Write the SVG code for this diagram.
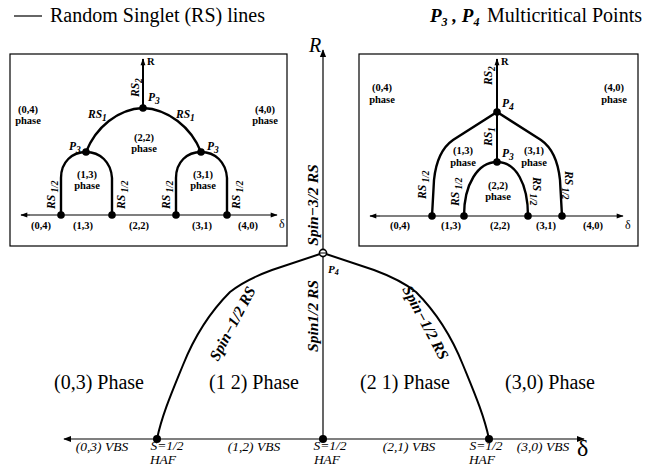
<svg xmlns="http://www.w3.org/2000/svg" width="652" height="466" viewBox="0 0 652 466" font-family="'Liberation Serif', 'DejaVu Serif', serif">
<defs>
<marker id="ah" viewBox="0 0 10 10" refX="9" refY="5" markerWidth="8" markerHeight="8" markerUnits="userSpaceOnUse" orient="auto"><path d="M0,1 L10,5 L0,9 z" fill="#000"/></marker>
<marker id="ahs" viewBox="0 0 10 10" refX="9" refY="5" markerWidth="9" markerHeight="7" markerUnits="userSpaceOnUse" orient="auto"><path d="M0,1.5 L10,5 L0,8.5 z" fill="#000"/></marker>
</defs>
<style>
text, tspan{font-family:'Liberation Serif','DejaVu Serif',serif;fill:#000}
.ax{stroke:#000;stroke-width:1.2;fill:none}
.rs{stroke:#000;stroke-width:2.4;fill:none}
.rsm{stroke:#000;stroke-width:2;fill:none}
.box{stroke:#000;stroke-width:1.2;fill:none}
.dot{fill:#000}
.ib{font-weight:bold;font-size:10.5px;text-anchor:middle}
.il{font-weight:bold;font-style:italic;font-size:11.5px}
.ph{font-size:20px;text-anchor:middle}
.vb{font-style:italic;font-size:13.5px;text-anchor:middle}
.ml{font-weight:bold;font-style:italic;font-size:15.5px}
</style>

<g id="legend">
<line x1="14" y1="16" x2="42" y2="16" stroke="#000" stroke-width="1.2"/>
<text x="50" y="22" font-size="20">Random Singlet (RS) lines</text>
<text x="430" y="22" font-size="19" font-weight="bold" font-style="italic">P<tspan font-size="12" dy="4">3</tspan><tspan dy="-4"> , </tspan>P<tspan font-size="12" dy="4">4</tspan></text>
<text x="487" y="22" font-size="20">Multicritical Points</text>
</g>

<g id="left-inset">
<rect class="box" x="10" y="54" width="277" height="192"/>
<line class="ax" x1="30" y1="215" x2="21" y2="215" marker-end="url(#ahs)"/>
<line class="ax" x1="30" y1="215" x2="277" y2="215" marker-end="url(#ahs)"/>
<line x1="143" y1="108" x2="143" y2="59" stroke="#000" stroke-width="2" marker-end="url(#ahs)"/>
<path class="rs" d="M86,152 C96,127 118,109 143,108 C168,109 191,127 201,152"/>
<path class="rs" d="M61,215 L61,178 C61,162 72,152 86,152 C100,152 111,162 112,178 L112,215"/>
<path class="rs" d="M176,215 L176,178 C176,162 187,152 201,152 C215,152 226,162 227,178 L227,215"/>
<circle class="dot" cx="143" cy="108" r="3.8"/>
<circle class="dot" cx="86" cy="152" r="3.8"/>
<circle class="dot" cx="201" cy="152" r="3.8"/>
<circle class="dot" cx="61" cy="215" r="3.8"/>
<circle class="dot" cx="112" cy="215" r="3.8"/>
<circle class="dot" cx="176" cy="215" r="3.8"/>
<circle class="dot" cx="227" cy="215" r="3.8"/>
<text x="147" y="65" font-size="10.5" font-weight="bold">R</text>
<text class="il" transform="translate(139,97) rotate(-90)">RS<tspan font-size="9.5" dy="3">2</tspan></text>
<text class="il" x="148" y="101" font-size="12.5">P<tspan font-size="9.5" dy="3">3</tspan></text>
<text class="il" x="88" y="118">RS<tspan font-size="9.5" dy="3">1</tspan></text>
<text class="il" x="176" y="118">RS<tspan font-size="9.5" dy="3">1</tspan></text>
<text class="il" x="69" y="150" font-size="12.5">P<tspan font-size="9.5" dy="3">3</tspan></text>
<text class="il" x="207" y="150" font-size="12.5">P<tspan font-size="9.5" dy="3">3</tspan></text>
<text class="ib" x="28" y="113">(0,4)</text><text class="ib" x="28" y="124">phase</text>
<text class="ib" x="265" y="113">(4,0)</text><text class="ib" x="265" y="124">phase</text>
<text class="ib" x="144" y="141">(2,2)</text><text class="ib" x="144" y="152">phase</text>
<text class="ib" x="87" y="178">(1,3)</text><text class="ib" x="87" y="189">phase</text>
<text class="ib" x="203" y="178">(3,1)</text><text class="ib" x="203" y="189">phase</text>
<text class="il" transform="translate(55,209) rotate(-90)">RS<tspan font-size="9.5" dy="3"> 1/2</tspan></text>
<text class="il" transform="translate(125,209) rotate(-90)">RS<tspan font-size="9.5" dy="3"> 1/2</tspan></text>
<text class="il" transform="translate(170,209) rotate(-90)">RS<tspan font-size="9.5" dy="3"> 1/2</tspan></text>
<text class="il" transform="translate(240,209) rotate(-90)">RS<tspan font-size="9.5" dy="3"> 1/2</tspan></text>
<text class="ib" x="41" y="229">(0,4)</text>
<text class="ib" x="83" y="229">(1,3)</text>
<text class="ib" x="139" y="229">(2,2)</text>
<text class="ib" x="202" y="229">(3,1)</text>
<text class="ib" x="248" y="229">(4,0)</text>
<text x="279" y="228" font-size="12">δ</text>
</g>

<g id="right-inset">
<rect class="box" x="359" y="54" width="279" height="192"/>
<line class="ax" x1="380" y1="216" x2="370" y2="216" marker-end="url(#ahs)"/>
<line class="ax" x1="380" y1="216" x2="623" y2="216" marker-end="url(#ahs)"/>
<line x1="497" y1="162" x2="497" y2="59" stroke="#000" stroke-width="2" marker-end="url(#ahs)"/>
<path class="rs" d="M432,216 L434,180 C436,160 443,147 453,140 L497,112 L541,140 C551,147 558,160 560,180 L562,216"/>
<path class="rs" d="M464,216 C464,184 478,162 497,162 C516,162 528,184 528,216"/>
<circle class="dot" cx="497" cy="112" r="3.8"/>
<circle class="dot" cx="497" cy="162" r="3.8"/>
<circle class="dot" cx="432" cy="216" r="3.8"/>
<circle class="dot" cx="464" cy="216" r="3.8"/>
<circle class="dot" cx="528" cy="216" r="3.8"/>
<circle class="dot" cx="562" cy="216" r="3.8"/>
<text x="501" y="65" font-size="10.5" font-weight="bold">R</text>
<text class="il" transform="translate(492,85) rotate(-90)">RS<tspan font-size="9.5" dy="3">2</tspan></text>
<text class="il" transform="translate(492,146) rotate(-90)">RS<tspan font-size="9.5" dy="3">1</tspan></text>
<text class="il" x="502" y="107" font-size="12.5">P<tspan font-size="9.5" dy="3">4</tspan></text>
<text class="il" x="502" y="157" font-size="12.5">P<tspan font-size="9.5" dy="3">3</tspan></text>
<text class="ib" x="382" y="91">(0,4)</text><text class="ib" x="382" y="103">phase</text>
<text class="ib" x="614" y="91">(4,0)</text><text class="ib" x="614" y="103">phase</text>
<text class="ib" x="463" y="154">(1,3)</text><text class="ib" x="463" y="166">phase</text>
<text class="ib" x="534" y="154">(3,1)</text><text class="ib" x="534" y="166">phase</text>
<text class="ib" x="498" y="189">(2,2)</text><text class="ib" x="498" y="200">phase</text>
<text class="il" transform="translate(426,199) rotate(-90)">RS<tspan font-size="9.5" dy="3"> 1/2</tspan></text>
<text class="il" transform="translate(459,206) rotate(-90)">RS<tspan font-size="9.5" dy="3"> 1/2</tspan></text>
<text class="il" transform="translate(533,177) rotate(90)">RS<tspan font-size="9.5" dy="3"> 1/2</tspan></text>
<text class="il" transform="translate(565,171) rotate(90)">RS<tspan font-size="9.5" dy="3"> 1/2</tspan></text>
<text class="ib" x="400" y="229">(0,4)</text>
<text class="ib" x="451" y="229">(1,3)</text>
<text class="ib" x="500" y="229">(2,2)</text>
<text class="ib" x="546" y="229">(3,1)</text>
<text class="ib" x="593" y="229">(4,0)</text>
<text x="625" y="229" font-size="12">δ</text>
</g>

<g id="connectors">
<line class="ax" x1="157" y1="439" x2="64" y2="439" marker-end="url(#ah)"/>
<line class="ax" x1="157" y1="439" x2="584" y2="439" marker-end="url(#ah)"/>
<line class="ax" x1="323" y1="439" x2="323" y2="50" marker-end="url(#ah)"/>
<path class="rsm" d="M323,253 L272,270 C253,277 240,284 230,292 C210,312 195,335 183,365 C172,392 162,415 157,439"/>
<path class="rsm" d="M323,253 L374,270 C393,277 406,284 416,292 C436,312 451,335 463,365 C474,392 484,415 489,439"/>
</g>

<g id="main-nodes">
<circle cx="323" cy="253" r="3.6" fill="#fff" stroke="#000" stroke-width="1.6"/>
<line x1="319.4" y1="253" x2="326.6" y2="253" stroke="#000" stroke-width="1"/>
<circle class="dot" cx="157" cy="439" r="4"/>
<circle class="dot" cx="323" cy="439" r="4"/>
<circle class="dot" cx="489" cy="439" r="4"/>
</g>

<g id="main-labels">
<text x="309" y="52" font-size="20" font-style="italic">R</text>
<text class="ml" transform="translate(318,205) rotate(-90)" text-anchor="middle">Spin−3/2 RS</text>
<text class="ml" transform="translate(318,316) rotate(-90)" text-anchor="middle">Spin1/2 RS</text>
<text class="ml" transform="translate(237,326) rotate(-62)" text-anchor="middle">Spin−1/2 RS</text>
<text class="ml" transform="translate(421,325) rotate(62)" text-anchor="middle">Spin−1/2 RS</text>
<text x="328" y="273" font-size="11" font-weight="bold" font-style="italic">P<tspan font-size="8" dy="2">4</tspan></text>
<text class="ph" x="99" y="389">(0,3) Phase</text>
<text class="ph" x="254" y="389">(1  2) Phase</text>
<text class="ph" x="405" y="389">(2  1) Phase</text>
<text class="ph" x="550" y="389">(3,0) Phase</text>
<text class="vb" x="102" y="451">(0,3) VBS</text>
<text class="vb" x="254" y="451">(1,2) VBS</text>
<text class="vb" x="409" y="451">(2,1) VBS</text>
<text class="vb" x="543" y="451">(3,0) VBS</text>
<text class="vb" x="167" y="449.5">S=1/2</text><text class="vb" x="163" y="463.5" font-size="11">HAF</text>
<text class="vb" x="330" y="449.5">S=1/2</text><text class="vb" x="327" y="463.5" font-size="11">HAF</text>
<text class="vb" x="486" y="449.5">S=1/2</text><text class="vb" x="482" y="463.5" font-size="11">HAF</text>
<text x="577" y="456" font-size="24">δ</text>
</g>
</svg>
